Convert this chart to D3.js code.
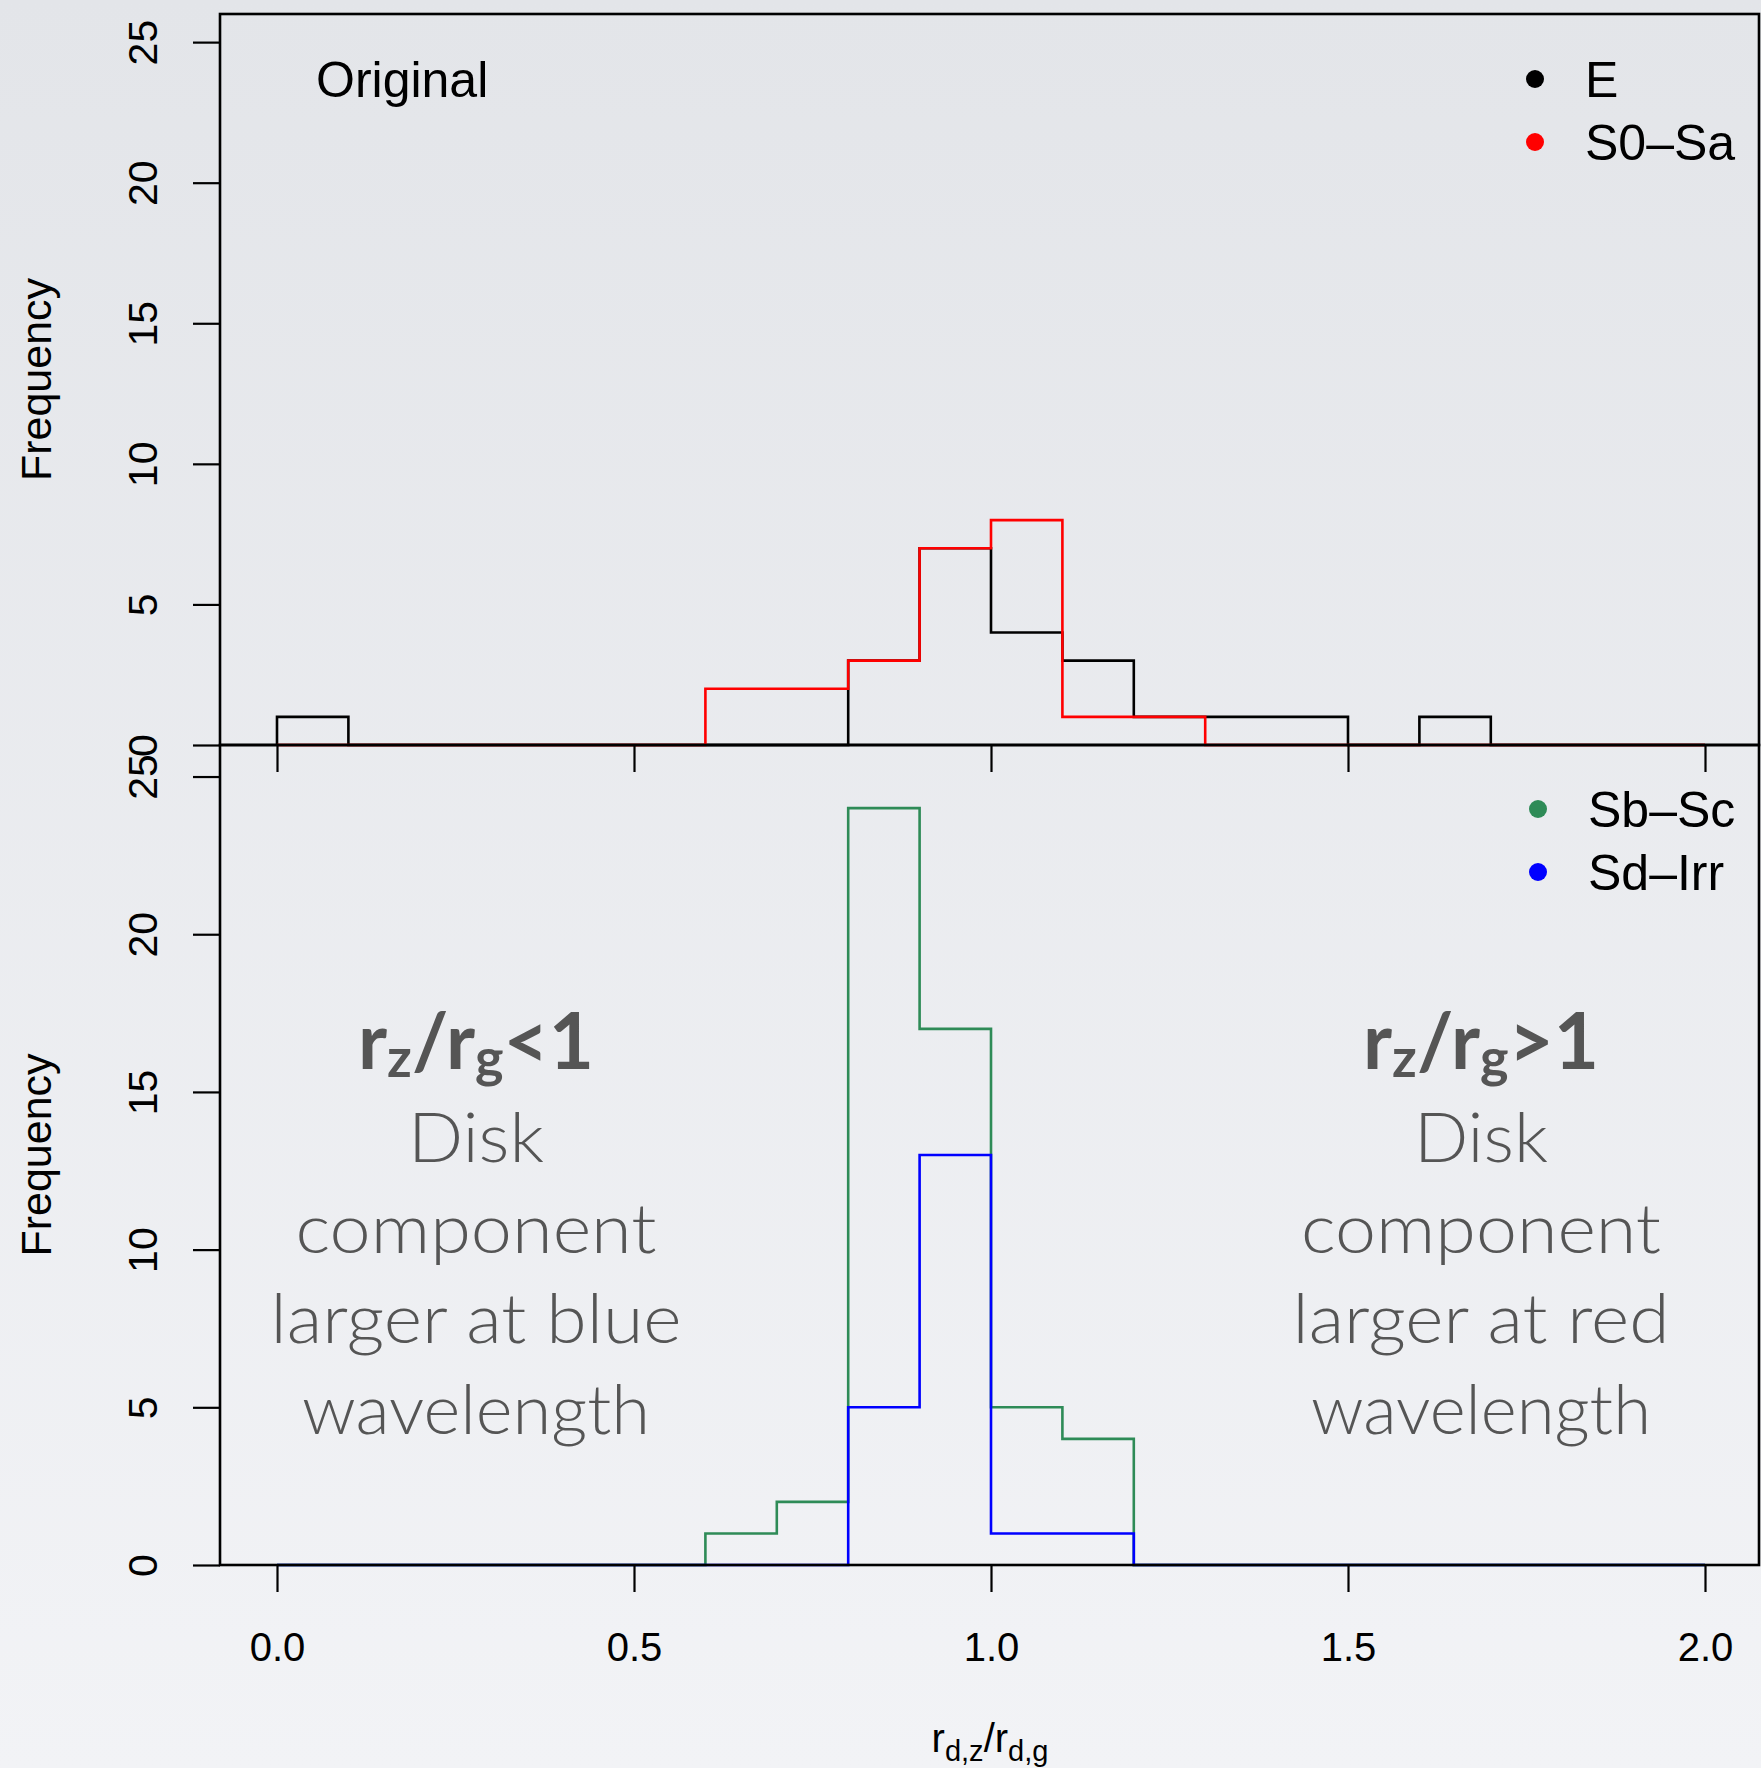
<!DOCTYPE html>
<html>
<head>
<meta charset="utf-8">
<script src="https://cdn.jsdelivr.net/npm/d3@7"></script>
<style>
  html, body { margin: 0; padding: 0; }
  body { width: 1761px; height: 1768px; overflow: hidden; }
  svg { display: block; }
</style>
</head>
<body>
<svg id="chart" width="1761" height="1768"></svg>
<script>
// Histogram bins: width 0.1 from 0.0 to 2.0
const binEdges = d3.range(20).map(i => +(i * 0.1).toFixed(1));

// Upper panel counts
const countsE    = [1,0,0,0,0,0,0,0,3,7,4,3,1,1,1,0,1,0,0,0];
const countsS0Sa = [0,0,0,0,0,0,2,2,3,7,8,1,1,0,0,0,0,0,0,0];

// Lower panel counts
const countsSbSc  = [0,0,0,0,0,0,1,2,24,17,5,4,0,0,0,0,0,0,0,0];
const countsSdIrr = [0,0,0,0,0,0,0,0,5,13,1,1,0,0,0,0,0,0,0,0];

const yTicks = [0, 5, 10, 15, 20, 25];
const xTicks = [0, 0.5, 1.0, 1.5, 2.0];

const legendTop    = [{ name: "E", color: "#000000" }, { name: "S0\u2013Sa", color: "#ff0000" }];
const legendBottom = [{ name: "Sb\u2013Sc", color: "#2e8b57" }, { name: "Sd\u2013Irr", color: "#0000ff" }];

const svg = d3.select("#chart");

// Soft slide background
const defs = svg.append("defs");
const grad = defs.append("linearGradient").attr("id", "bg").attr("x1", 0).attr("y1", 0).attr("x2", 0).attr("y2", 1);
grad.append("stop").attr("offset", "0%").attr("stop-color", "#e3e5e9");
grad.append("stop").attr("offset", "100%").attr("stop-color", "#f2f3f6");
svg.append("rect").attr("width", 1761).attr("height", 1768).attr("fill", "url(#bg)");

// Layout
const boxLeft = 220, boxRight = 1759;
const x = d3.scaleLinear().domain([0, 2]).range([277, 1705]);
const yTop = d3.scaleLinear().domain([0, 26]).range([745, 14]);
const yBot = d3.scaleLinear().domain([0, 26]).range([1565, 745]);

const tickFont = "'Liberation Sans', Arial, Helvetica, sans-serif";

function stepPath(counts, y) {
  const pts = [{ x: 0, c: 0 }]
    .concat(binEdges.map((e, i) => ({ x: e, c: counts[i] })))
    .concat([{ x: 2.0, c: 0 }]);
  return d3.line().x(d => x(d.x)).y(d => y(d.c)).curve(d3.curveStepAfter)(pts);
}

function drawPanel(y, series, showXLabels) {
  const g = svg.append("g");

  series.forEach(s => {
    g.append("path")
      .attr("d", stepPath(s.counts, y))
      .attr("fill", "none")
      .attr("stroke", s.color)
      .attr("stroke-width", 2.6)
      .attr("stroke-linejoin", "miter");
  });

  // Frame
  g.append("rect")
    .attr("x", boxLeft).attr("y", y.range()[1])
    .attr("width", boxRight - boxLeft).attr("height", y.range()[0] - y.range()[1])
    .attr("fill", "none").attr("stroke", "#000").attr("stroke-width", 2.6);

  // Y axis
  const ya = g.append("g").attr("transform", `translate(${boxLeft},0)`)
    .call(d3.axisLeft(y).tickValues(yTicks).tickSize(27).tickFormat(d3.format("d")));
  ya.select(".domain").remove();
  ya.selectAll(".tick line").attr("stroke", "#000").attr("stroke-width", 2.2);
  ya.selectAll(".tick text")
    .attr("x", null).attr("dy", null)
    .attr("text-anchor", "middle")
    .attr("transform", "translate(-63,0) rotate(-90)")
    .attr("fill", "#000")
    .style("font-family", tickFont).style("font-size", "41px");

  // X axis
  const xa = g.append("g").attr("transform", `translate(0,${y.range()[0]})`)
    .call(d3.axisBottom(x).tickValues(xTicks).tickSize(27).tickFormat(d3.format(".1f")));
  xa.select(".domain").remove();
  xa.selectAll(".tick line").attr("stroke", "#000").attr("stroke-width", 2.2);
  if (showXLabels) {
    xa.selectAll(".tick text")
      .attr("y", 96).attr("dy", null)
      .attr("fill", "#000")
      .style("font-family", tickFont).style("font-size", "40px");
  } else {
    xa.selectAll(".tick text").remove();
  }

  // Y label
  const yMid = (y.range()[0] + y.range()[1]) / 2;
  g.append("text")
    .attr("transform", `translate(51,${yMid}) rotate(-90)`)
    .attr("text-anchor", "middle")
    .style("font-family", tickFont).style("font-size", "43px")
    .text("Frequency");
  return g;
}

// Lower panel first so the upper panel's ticks sit above its frame
drawPanel(yBot, [
  { counts: countsSbSc, color: "#2e8b57" },
  { counts: countsSdIrr, color: "#0000ff" }
], true);
drawPanel(yTop, [
  { counts: countsE, color: "#000000" },
  { counts: countsS0Sa, color: "#ff0000" }
], false);

// Panel tag
svg.append("text")
  .attr("x", 316).attr("y", 97)
  .style("font-family", tickFont).style("font-size", "50px")
  .text("Original");

// Legends
function drawLegend(items, x0, y0) {
  items.forEach((it, i) => {
    const cy = y0 + i * 63;
    svg.append("circle").attr("cx", x0).attr("cy", cy).attr("r", 9).attr("fill", it.color);
    svg.append("text")
      .attr("x", x0 + 50).attr("y", cy + 18)
      .style("font-family", tickFont).style("font-size", "50px")
      .text(it.name);
  });
}
drawLegend(legendTop, 1535, 79);
drawLegend(legendBottom, 1538, 809);

// X label with subscripts
const xl = svg.append("text")
  .attr("x", 990).attr("y", 1752)
  .attr("text-anchor", "middle")
  .style("font-family", tickFont).style("font-size", "40px");
xl.append("tspan").text("r");
xl.append("tspan").attr("dy", 9).style("font-size", "29px").text("d,z");
xl.append("tspan").attr("dy", -9).text("/r");
xl.append("tspan").attr("dy", 9).style("font-size", "29px").text("d,g");

// Annotations
const noteFont = "Lato, 'Open Sans', 'Noto Sans', sans-serif";
const noteColor = "#555555";

function drawNote(cx, relation, lines, widths) {
  const t = svg.append("text")
    .attr("x", cx).attr("y", 1069)
    .attr("text-anchor", "middle")
    .attr("fill", noteColor)
    .style("font-family", noteFont).style("font-weight", 700).style("font-size", "78px");
  t.append("tspan").text("r");
  t.append("tspan").attr("dy", 8).style("font-size", "54px").text("z");
  t.append("tspan").attr("dy", -8).text("/r");
  t.append("tspan").attr("dy", 8).style("font-size", "54px").text("g");
  t.append("tspan").attr("dy", -8).text(relation + "1");

  lines.forEach((ln, i) => {
    svg.append("text")
      .attr("x", cx).attr("y", 1162 + i * 90.5)
      .attr("text-anchor", "middle")
      .attr("textLength", widths[i]).attr("lengthAdjust", "spacingAndGlyphs")
      .attr("fill", noteColor)
      .style("font-family", noteFont).style("font-weight", 300).style("font-size", "68px")
      .text(ln);
  });
}
drawNote(476, "<", ["Disk", "component", "larger at blue", "wavelength"], [136, 361, 411, 348]);
drawNote(1481, ">", ["Disk", "component", "larger at red", "wavelength"], [134, 360, 377, 340]);
</script>
</body>
</html>
